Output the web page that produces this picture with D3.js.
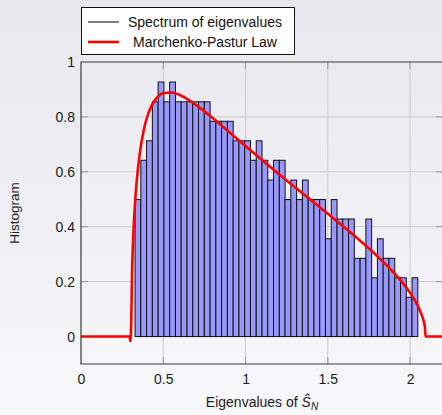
<!DOCTYPE html>
<html>
<head>
<meta charset="utf-8">
<script src="https://cdn.jsdelivr.net/npm/d3@7"></script>
<style>
  html, body { margin: 0; padding: 0; }
  body {
    width: 442px;
    height: 415px;
    overflow: hidden;
    background: linear-gradient(#e7e7ee, #f8f8fa);
    font-family: "Liberation Sans", Arial, sans-serif;
  }
  svg { display: block; }
</style>
</head>
<body>
<div class="layout"></div>
<script>
// histogram of the eigenvalues (normalised so the area is 1)
const binStart = 0.3285;
const binWidth = 0.03507;
const density = [
  0.499, 0.642, 0.713, 0.855, 0.927, 0.855, 0.927, 0.855, 0.855, 0.855,
  0.855, 0.855, 0.855, 0.784, 0.784, 0.784, 0.784, 0.713, 0.713, 0.713,
  0.642, 0.713, 0.642, 0.570, 0.642, 0.642, 0.499, 0.570, 0.499, 0.570,
  0.499, 0.499, 0.499, 0.356, 0.499, 0.428, 0.428, 0.428, 0.285, 0.285,
  0.428, 0.214, 0.356, 0.285, 0.285, 0.214, 0.214, 0.143, 0.214
];

// Marchenko-Pastur density, sampled points
const mpX = [0, 0.295, 0.300, 0.306, 0.31, 0.315, 0.32, 0.33, 0.34, 0.36,
  0.38, 0.40, 0.43, 0.46, 0.50, 0.55, 0.60, 0.70, 0.80, 0.90,
  1.0, 1.1, 1.2, 1.3, 1.4, 1.5, 1.6, 1.7, 1.8, 1.9,
  1.95, 2.0, 2.03, 2.06, 2.08, 2.09, 2.094, 2.2];
const mpY = [0, 0, -0.017, 0.072, 0.228, 0.327, 0.398, 0.500, 0.575, 0.679,
  0.748, 0.796, 0.842, 0.869, 0.886, 0.889, 0.880, 0.843, 0.796, 0.745,
  0.694, 0.643, 0.593, 0.544, 0.496, 0.447, 0.398, 0.347, 0.293, 0.233,
  0.199, 0.159, 0.131, 0.095, 0.061, 0.034, 0, 0];

const ticksX = [0, 0.5, 1, 1.5, 2];
const ticksY = [0, 0.2, 0.4, 0.6, 0.8, 1];

const legendLabels = ["Spectrum of eigenvalues", "Marchenko-Pastur Law"];
const legendColors = ["#000000", "#ff0000"];

const width = 442;
const height = 415;
const plotLeft = 81, plotRight = 443, plotTop = 62, plotBottom = 364;

var svg = d3.select("div.layout")
  .append("svg")
  .attr("width", width)
  .attr("height", height);

var x = d3.scaleLinear()
  .domain([0, 2.2])
  .range([plotLeft, plotRight]);

var y = d3.scaleLinear()
  .domain([-0.1, 1])
  .range([plotBottom, plotTop]);

// grid lines
var grid = svg.append("g").attr("class", "grid");

grid.selectAll("line.gx")
  .data(ticksX.slice(1))
  .enter()
  .append("line")
  .attr("class", "gx")
  .attr("x1", function(d) { return x(d) })
  .attr("x2", function(d) { return x(d) })
  .attr("y1", plotTop)
  .attr("y2", plotBottom)
  .attr("stroke", "#cbcbcf")
  .attr("stroke-width", 1);

grid.selectAll("line.gy")
  .data(ticksY.slice(1, -1))
  .enter()
  .append("line")
  .attr("class", "gy")
  .attr("x1", plotLeft)
  .attr("x2", plotRight)
  .attr("y1", function(d) { return y(d) })
  .attr("y2", function(d) { return y(d) })
  .attr("stroke", "#cbcbcf")
  .attr("stroke-width", 1);

// small inner tick marks
var tickG = svg.append("g").attr("class", "ticks");
ticksY.slice(0, -1).forEach(function(d) {
  tickG.append("line")
    .attr("x1", plotLeft).attr("x2", plotLeft + 7)
    .attr("y1", y(d)).attr("y2", y(d))
    .attr("stroke", "#9a9a9e");
  tickG.append("line")
    .attr("x1", plotRight - 7).attr("x2", plotRight)
    .attr("y1", y(d)).attr("y2", y(d))
    .attr("stroke", "#9a9a9e");
});
ticksX.slice(1).forEach(function(d) {
  tickG.append("line")
    .attr("x1", x(d)).attr("x2", x(d))
    .attr("y1", plotBottom).attr("y2", plotBottom - 7)
    .attr("stroke", "#9a9a9e");
  tickG.append("line")
    .attr("x1", x(d)).attr("x2", x(d))
    .attr("y1", plotTop).attr("y2", plotTop + 7)
    .attr("stroke", "#9a9a9e");
});

// histogram bars
svg.append("g")
  .attr("class", "bars")
  .selectAll("rect")
  .data(density)
  .enter()
  .append("rect")
  .attr("x", function(d, i) { return x(binStart + i * binWidth) })
  .attr("y", function(d) { return y(d) })
  .attr("width", x(binWidth) - x(0))
  .attr("height", function(d) { return y(0) - y(d) })
  .attr("fill", "#9999fb")
  .attr("stroke", "#111")
  .attr("stroke-width", 1);

// Marchenko-Pastur curve
var line = d3.line()
  .x(function(d) { return x(d[0]) })
  .y(function(d) { return y(d[1]) })
  .curve(d3.curveMonotoneX);

svg.append("path")
  .datum(d3.zip(mpX, mpY))
  .attr("d", line)
  .attr("fill", "none")
  .attr("stroke", "#ff0000")
  .attr("stroke-width", 2.6)
  .attr("stroke-linejoin", "round");

// frame
svg.append("path")
  .attr("d", "M" + plotRight + "," + plotTop + "H" + plotLeft + "V" + plotBottom + "H" + plotRight)
  .attr("fill", "none")
  .attr("stroke", "#3a3a3a")
  .attr("stroke-width", 1.2);

// tick labels
var xAxis = d3.axisBottom(x)
  .tickValues(ticksX)
  .tickSize(0)
  .tickPadding(10)
  .tickFormat(function(d) { return String(d) });

var yAxis = d3.axisLeft(y)
  .tickValues(ticksY)
  .tickSize(0)
  .tickPadding(6)
  .tickFormat(function(d) { return String(d) });

svg.append("g")
  .attr("class", "xAxis")
  .attr("transform", "translate(0," + plotBottom + ")")
  .call(xAxis);

svg.append("g")
  .attr("class", "yAxis")
  .attr("transform", "translate(" + plotLeft + ",0)")
  .call(yAxis);

svg.selectAll(".xAxis .domain, .yAxis .domain").remove();
svg.selectAll(".xAxis text, .yAxis text")
  .attr("font-family", "Liberation Sans, Arial, sans-serif")
  .attr("font-size", "14px")
  .attr("fill", "#1a1a1a");

// axis titles
svg.append("text")
  .attr("transform", "translate(14," + ((plotTop + plotBottom) / 2) + ") rotate(-90)")
  .attr("text-anchor", "middle")
  .attr("dominant-baseline", "central")
  .attr("font-size", "13.5px")
  .attr("fill", "#1a1a1a")
  .text("Histogram");

var xTitle = svg.append("text")
  .attr("x", (plotLeft + plotRight) / 2)
  .attr("y", 407)
  .attr("text-anchor", "middle")
  .attr("font-size", "14px")
  .attr("fill", "#1a1a1a");
xTitle.append("tspan").text("Eigenvalues of ");
xTitle.append("tspan").attr("font-style", "italic").text("Ŝ");
xTitle.append("tspan")
  .attr("font-style", "italic")
  .attr("font-size", "10px")
  .attr("dy", 3)
  .text("N");

// legend
var legend = svg.append("g").attr("class", "legend");
legend.append("rect")
  .attr("x", 81.5)
  .attr("y", 7.5)
  .attr("width", 213)
  .attr("height", 47)
  .attr("fill", "#ffffff")
  .attr("stroke", "#111")
  .attr("stroke-width", 1);

legend.selectAll("line")
  .data(legendLabels)
  .enter()
  .append("line")
  .attr("x1", 88)
  .attr("x2", 119)
  .attr("y1", function(d, i) { return 22 + i * 20 })
  .attr("y2", function(d, i) { return 22 + i * 20 })
  .attr("stroke", function(d, i) { return legendColors[i] })
  .attr("stroke-width", function(d, i) { return i === 0 ? 1 : 2.6 });

legend.selectAll("text")
  .data(legendLabels)
  .enter()
  .append("text")
  .attr("x", 205)
  .attr("y", function(d, i) { return 22 + i * 20 })
  .attr("text-anchor", "middle")
  .attr("dominant-baseline", "central")
  .attr("font-size", "14px")
  .attr("fill", "#111")
  .text(function(d) { return d });
</script>
</body>
</html>
